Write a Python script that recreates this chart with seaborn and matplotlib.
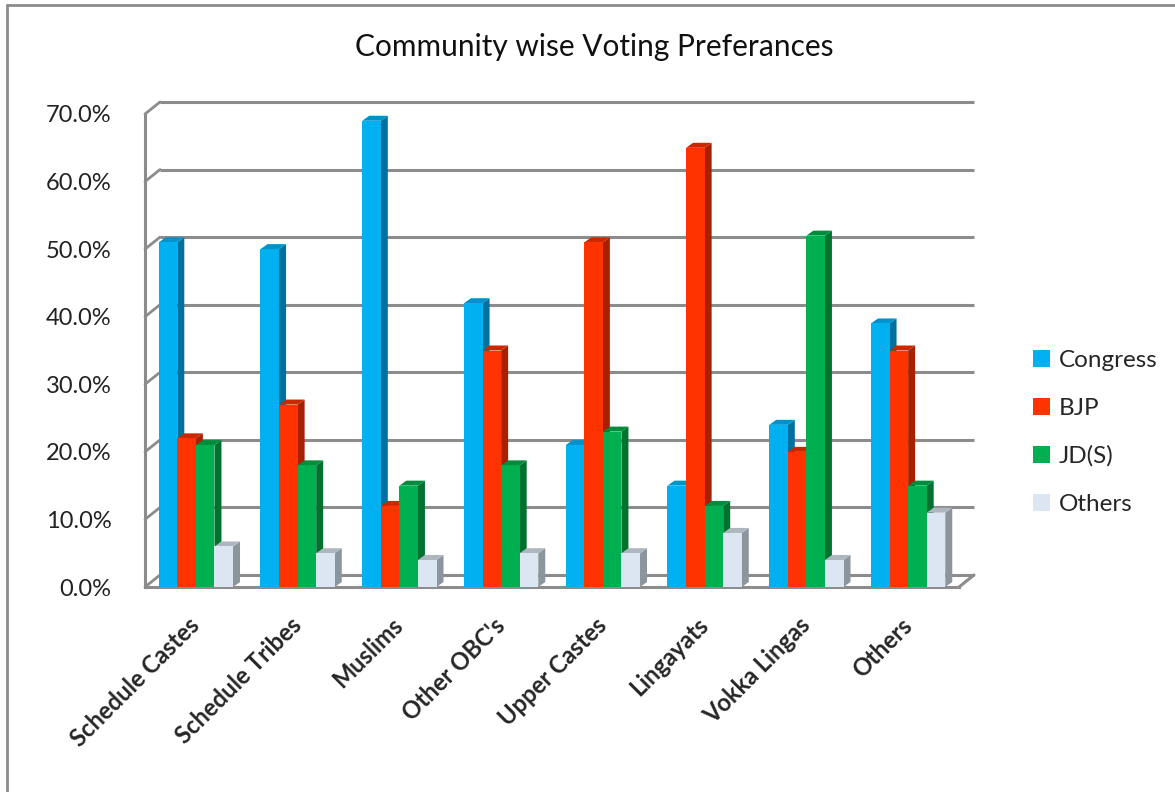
import numpy as np
import pandas as pd
import seaborn as sns
import matplotlib.pyplot as plt
from matplotlib.patches import Polygon, Patch
from matplotlib.lines import Line2D

# ---- data ----
categories = ["Schedule Castes", "Schedule Tribes", "Muslims", "Other OBC's",
              "Upper Castes", "Lingayats", "Vokka Lingas", "Others"]
parties = ["Congress", "BJP", "JD(S)", "Others"]
congress = [51, 50, 69, 42, 21, 15, 24, 39]
bjp = [22, 27, 12, 35, 51, 65, 20, 35]
jds = [21, 18, 15, 18, 23, 12, 52, 15]
others = [6, 5, 4, 5, 5, 8, 4, 11]
yticks = [0, 10, 20, 30, 40, 50, 60, 70]
title = "Community wise Voting Preferances"

front_colors = ["#00B0F0", "#FF3300", "#00B050", "#DCE6F2"]
side_colors = ["#00709E", "#A82000", "#00722F", "#8C949E"]
top_colors = ["#0093CB", "#CC2800", "#008C3C", "#AEB6C0"]

series = {"Congress": congress, "BJP": bjp, "JD(S)": jds, "Others": others}
rows = []
for p in parties:
    for c, v in zip(categories, series[p]):
        rows.append({"Community": c, "Party": p, "Share": v})
df = pd.DataFrame(rows)

sns.set_theme(style="white")
plt.rcParams["font.family"] = ["Lato", "DejaVu Sans"]

W, H = 1175, 792
fig = plt.figure(figsize=(W / 100, H / 100), dpi=100)
fig.patch.set_facecolor("white")

ax_l, ax_r, ax_b, ax_t = 145, 959, 587, 114
ax = fig.add_axes([ax_l / W, 1 - ax_b / H, (ax_r - ax_l) / W, (ax_b - ax_t) / H])
ax.set_facecolor("none")

sns.barplot(data=df, x="Community", y="Share", hue="Party", order=categories,
            hue_order=parties, palette=front_colors, width=0.73, saturation=1,
            linewidth=0, ax=ax, legend=False)

ax.set_xlim(-0.5, len(categories) - 0.5)
ax.set_ylim(0, 70)

# pixel -> data unit conversion
ppx = (ax_r - ax_l) / len(categories)
ppy = (ax_b - ax_t) / 70.0
wall_dx, wall_dy = 15 / ppx, 12 / ppy
bar_dx, bar_dy = 7 / ppx, 5 / ppy

grid_c = "#8C8C8C"
x0, x1 = -0.5, len(categories) - 0.5
for v in yticks:
    ax.plot([x0 + wall_dx, x1 + wall_dx], [v + wall_dy, v + wall_dy],
            color=grid_c, lw=2.2, zorder=1, clip_on=False, solid_capstyle="butt")
    ax.plot([x0, x0 + wall_dx], [v, v + wall_dy], color=grid_c, lw=2,
            zorder=1, clip_on=False)
# right floor diagonal
ax.plot([x1, x1 + wall_dx], [0, wall_dy], color=grid_c, lw=2.2, zorder=1, clip_on=False)

# pseudo-3D faces
for hi, cont in enumerate(ax.containers):
    for bar in cont:
        bx, bw, bh = bar.get_x(), bar.get_width(), bar.get_height()
        z = 3 + (bx + 1) * 0.05
        bar.set_zorder(z)
        side = Polygon([(bx + bw, 0), (bx + bw + bar_dx, bar_dy),
                        (bx + bw + bar_dx, bh + bar_dy), (bx + bw, bh)],
                       closed=True, facecolor=side_colors[hi], edgecolor="none",
                       zorder=z - 0.001, clip_on=False)
        top = Polygon([(bx, bh), (bx + bw, bh), (bx + bw + bar_dx, bh + bar_dy),
                       (bx + bar_dx, bh + bar_dy)],
                      closed=True, facecolor=top_colors[hi], edgecolor="none",
                      zorder=z - 0.001, clip_on=False)
        ax.add_patch(side)
        ax.add_patch(top)

# axes styling
for s in ["top", "right"]:
    ax.spines[s].set_visible(False)
for s in ["left", "bottom"]:
    ax.spines[s].set_color(grid_c)
    ax.spines[s].set_linewidth(2.2)
    ax.spines[s].set_zorder(2)

ax.set_yticks(yticks)
ax.set_yticklabels([f"{v:.1f}%" for v in yticks])
ax.tick_params(axis="y", length=0, pad=24, labelsize=17, labelcolor="#222222")
ax.set_xticks(range(len(categories)))
ax.set_xticklabels(categories, rotation=45, ha="right", va="center",
                   rotation_mode="anchor", fontweight="bold", fontsize=17)
ax.tick_params(axis="x", length=0, pad=25)
ax.set_xlabel("")
ax.set_ylabel("")

fig.text(594 / W, 1 - 47 / H, title, ha="center", va="center", fontsize=21.5, color="#111111")

handles = [Patch(facecolor=c, edgecolor="none") for c in front_colors]
fig.legend(handles, parties, loc="upper left", bbox_to_anchor=(1011 / W, 1 - 328 / H),
           frameon=False, fontsize=17.5, handlelength=0.7, handleheight=0.7,
           handletextpad=0.35, labelspacing=1.1)

# outer chart border (left and top)
fig.add_artist(Line2D([7 / W, 7 / W], [0, 1 - 5 / H], color="#8C8C8C", lw=2))
fig.add_artist(Line2D([7 / W, 1], [1 - 5 / H, 1 - 5 / H], color="#8C8C8C", lw=2))

fig.savefig("out.png", dpi=100, facecolor="white")
